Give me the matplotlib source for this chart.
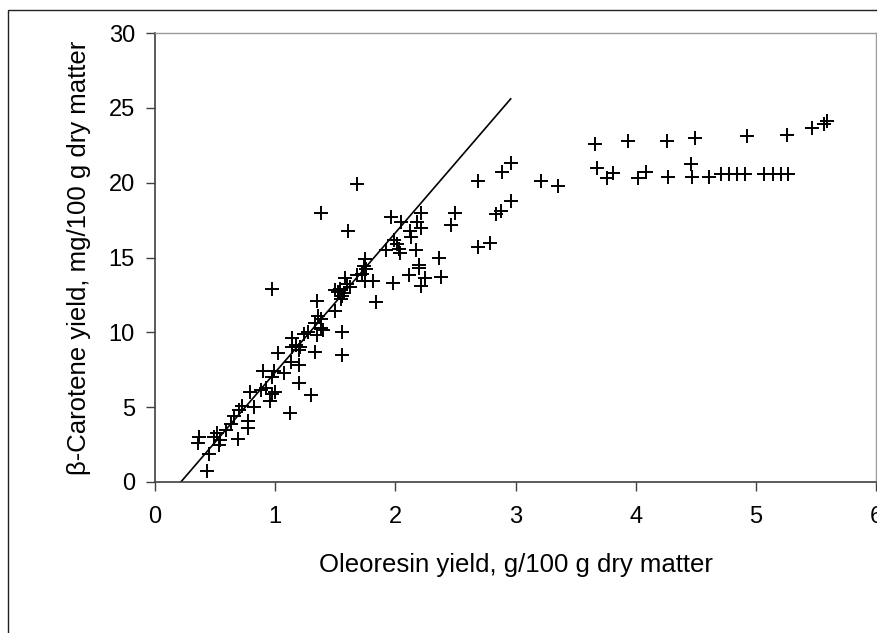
import matplotlib
matplotlib.use("Agg")
import matplotlib.pyplot as plt
from matplotlib.patches import Rectangle

plt.rcParams['font.family'] = ['Liberation Sans', 'DejaVu Sans']

# oleoresin yield (g/100 g dm) vs beta-carotene yield (mg/100 g dm)
oleo = [0.36, 0.37, 0.43, 0.45, 0.49, 0.52, 0.54, 0.53, 0.59, 0.63, 0.69, 0.66, 0.70, 0.72,
        0.77, 0.77, 0.82, 0.79, 0.88, 0.92, 0.90, 0.97, 0.96, 0.99, 0.97, 1.00, 1.07, 1.02,
        1.12, 1.13, 1.20, 1.14, 1.20, 1.30, 1.17, 1.21, 1.14, 1.20, 1.33, 1.24, 1.27, 1.35,
        1.40, 1.38, 1.33, 1.36, 1.38, 1.35, 1.50, 1.56, 1.56, 0.97, 1.38, 1.61, 1.68,
        1.52, 1.54, 1.57, 1.56, 1.58, 1.60, 1.62, 1.50, 1.55, 1.68, 1.72, 1.74, 1.76, 1.75,
        1.75, 1.81, 1.84, 1.92, 1.96, 1.98, 1.99, 2.01, 2.03, 2.04, 2.05, 2.11, 2.12, 2.13,
        2.17, 2.18, 2.21, 2.21, 2.20, 2.20, 2.25, 2.21, 2.36, 2.38, 2.46, 2.50, 2.69, 2.69,
        2.79, 2.84, 2.88, 2.96, 2.89, 2.96, 3.21, 3.35,
        3.66, 3.68, 3.76, 3.81, 3.94, 4.02, 4.09, 4.26, 4.27, 4.46, 4.47, 4.49, 4.61, 4.71,
        4.78, 4.84, 4.91, 4.93, 5.07, 5.14, 5.21, 5.27, 5.26, 5.47, 5.57, 5.59]
carot = [2.6, 3.0, 0.75, 1.9, 3.0, 3.25, 2.8, 2.5, 3.5, 3.9, 2.9, 4.4, 4.8, 5.1,
         4.1, 3.6, 5.0, 6.0, 6.15, 6.3, 7.4, 5.9, 5.4, 7.4, 7.0, 6.0, 7.3, 8.6,
         4.6, 8.0, 6.6, 9.6, 7.8, 5.8, 9.15, 9.0, 9.0, 8.8, 8.7, 9.9, 10.0, 9.8,
         10.15, 10.3, 10.6, 11.1, 10.9, 12.1, 11.4, 10.0, 8.5, 12.9, 18.0, 16.8, 19.9,
         12.7, 12.9, 12.6, 12.4, 13.6, 13.2, 13.0, 12.8, 12.2, 13.8, 13.9, 14.4, 14.2, 14.9,
         13.4, 13.4, 12.0, 15.5, 17.7, 13.3, 16.2, 15.9, 15.6, 15.3, 17.4, 13.8, 16.8, 16.4,
         15.5, 17.4, 17.0, 18.0, 14.5, 14.3, 13.6, 13.1, 15.0, 13.7, 17.2, 18.0, 20.1, 15.7,
         16.0, 17.9, 18.1, 18.8, 20.7, 21.3, 20.1, 19.8,
         22.56, 20.96, 20.3, 20.66, 22.78, 20.3, 20.73, 22.78, 20.4, 21.24, 20.4, 22.96, 20.4, 20.55,
         20.55, 20.55, 20.55, 23.09, 20.55, 20.55, 20.55, 20.55, 23.2, 23.63, 23.9, 24.1]

# regression line end points
line_x = [0.215, 2.96]
line_y = [0.0, 25.6]

fig = plt.figure(figsize=(8.77, 6.33), dpi=100)
ax = fig.add_axes([155 / 877, 1 - 482 / 633, 721 / 877, (482 - 33) / 633])

ax.plot(oleo, carot, ls="none", marker="+", ms=10, mew=1.4, color="black")
ax.plot(line_x, line_y, color="black", lw=1.2)

ax.set_xlim(0, 6)
ax.set_ylim(0, 30)
ax.set_xticks(range(0, 7))
ax.set_yticks(range(0, 31, 5))
ax.tick_params(direction="out", length=6.5, width=1, color="#404040", labelsize=17)
ax.tick_params(axis="y", pad=8)
ax.tick_params(axis="x", pad=11)
for s in ("left", "bottom"):
    ax.spines[s].set_color("#404040")
    ax.spines[s].set_linewidth(1.2)
for s in ("top", "right"):
    ax.spines[s].set_color("#9a9a9a")
    ax.spines[s].set_linewidth(1)

ax.set_xlabel("Oleoresin yield, g/100 g dry matter", fontsize=18.5, labelpad=18)
ax.set_ylabel("β-Carotene yield, mg/100 g dry matter", fontsize=18.5, labelpad=13)

# outer frame of the original figure (cropped at right and bottom)
fig.patches.append(Rectangle((8 / 877, -0.1), 1.2, 1.1 - 10 / 633, transform=fig.transFigure,
                             fill=False, ec="#222222", lw=1))

fig.savefig("out.png", dpi=100)
